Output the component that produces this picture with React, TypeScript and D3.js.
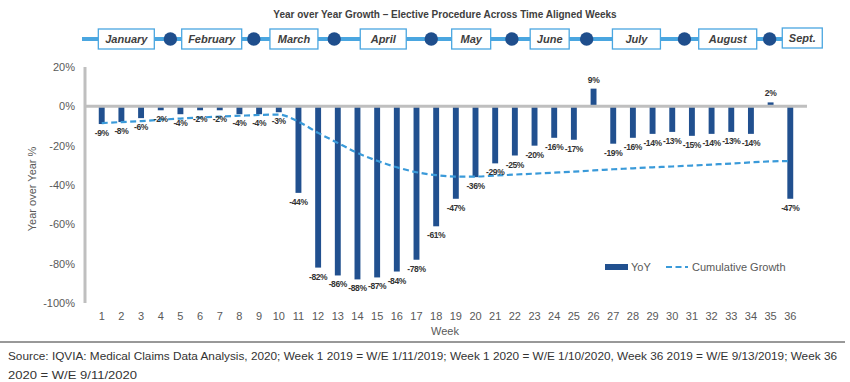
import React from "react";
import * as d3 from "d3";

const weeks: number[] = Array.from({ length: 36 }, (_, i) => i + 1);
const yoy: number[] = [-9, -8, -6, -2, -4, -2, -2, -4, -4, -3, -44, -82, -86, -88, -87, -84, -78, -61, -47, -36, -29, -25, -20, -16, -17, 9, -19, -16, -14, -13, -15, -14, -13, -14, 2, -47];
const cumulative: number[] = [-8.5, -8, -7.5, -6.8, -6.2, -5.7, -5.2, -4.8, -4.4, -4.2, -7.8, -13.5, -18.6, -23.7, -27.7, -31, -33.5, -35, -35.7, -35.7, -35.2, -34.7, -34.2, -33.7, -33.2, -32.6, -32, -31.5, -31, -30.6, -30.1, -29.6, -29.1, -28.5, -28, -27.8];
const yTicks: number[] = [20, 0, -20, -40, -60, -80, -100];
const months: string[] = ["January", "February", "March", "April", "May", "June", "July", "August", "Sept."];
// month box centres (in week units) and box widths, plus separator dot positions (week units)
const monthCenters: number[] = [2.6, 6.94, 11.12, 15.66, 20.13, 24.12, 28.53, 33.17, 36.96];
const monthBoxW: number[] = [56, 60, 48, 46, 39, 39, 48, 58, 40];
const dotWeeks: number[] = [4.84, 9.08, 13.17, 18.1, 22.2, 26.0, 30.97, 35.3];

const title = "Year over Year Growth \u2013 Elective Procedure Across Time Aligned Weeks";
const source1 = "Source: IQVIA: Medical Claims Data Analysis, 2020; Week 1 2019 = W/E 1/11/2019; Week 1 2020 = W/E 1/10/2020, Week 36 2019 = W/E 9/13/2019; Week 36";
const source2 = "2020 = W/E 9/11/2020";

const W = 850, H = 382;
const BAR = "#21508f";
const LINE = "#3a9ad9";
const BAND = "#4aa6e0";
const TXT = "#404040";

export default function App() {
  const x = d3.scaleBand<number>().domain(weeks).range([85, 807]).padding(0.7);
  const xc = (w: number) => (x(w) as number) + x.bandwidth() / 2;
  const step = x.step();
  const xw = (w: number) => 85 + step * (w - 0.5);
  const y = d3.scaleLinear().domain([-100, 20]).range([303, 67]);
  const line = d3.line<number>().x((_, i) => xc(weeks[i])).y((d) => y(d)).curve(d3.curveMonotoneX);
  const font = "Liberation Sans, Arial, sans-serif";

  return (
    <svg width={W} height={H} style={{ position: "absolute", left: 0, top: 0, background: "#fff" }} fontFamily={font}>
      <text x={445} y={18} textAnchor="middle" fontSize={10} fontWeight="bold" fill={TXT}>{title}</text>

      {/* month band */}
      <line x1={82} x2={xw(monthCenters[8]) - 10} y1={39} y2={39} stroke={BAND} strokeWidth={4} />
      {dotWeeks.map((w, i) => (
        <circle key={"d" + i} cx={xw(w)} cy={39} r={6.7} fill="#1f4e8c" />
      ))}
      {months.map((m, i) => {
        const cx = xw(monthCenters[i]);
        const off = i === 8 ? -1 : 0;
        return (
          <g key={m}>
            <rect x={cx - monthBoxW[i] / 2} y={29 + off} width={monthBoxW[i]} height={20} fill="#fff" stroke={BAND} strokeWidth={1.3} />
            <text x={cx} y={43 + off} textAnchor="middle" fontSize={11} fontStyle="italic" fontWeight="bold" fill={TXT}>{m}</text>
          </g>
        );
      })}

      {/* y axis */}
      <line x1={85} x2={85} y1={y(20)} y2={y(-100)} stroke="#bfbfbf" strokeWidth={3} />
      {yTicks.map((t) => (
        <text key={t} x={75} y={y(t) + 4} textAnchor="end" fontSize={11} fill="#595959">{t}%</text>
      ))}
      <text transform={`translate(36,${y(-42)}) rotate(-90)`} textAnchor="middle" fontSize={11} fill="#595959">Year over Year %</text>

      {/* bars */}
      {yoy.map((v, i) => (
        <rect key={"b" + i} x={x(weeks[i])} y={Math.min(y(v), y(0))} width={x.bandwidth()} height={Math.abs(y(v) - y(0))} fill={BAR} />
      ))}
      <line x1={85} x2={807} y1={y(0)} y2={y(0)} stroke="#bfbfbf" strokeWidth={3} />

      <path d={line(cumulative) || ""} fill="none" stroke={LINE} strokeWidth={2.2} strokeDasharray="6,3.5" />

      {yoy.map((v, i) => (
        <text key={"l" + i} x={xc(weeks[i])} y={v < 0 ? y(v) + 12 : y(v) - 6} textAnchor="middle" fontSize={8.5} fontWeight="bold" fill="#333" letterSpacing={-0.4}>{v}%</text>
      ))}

      {/* x axis labels */}
      {weeks.map((w) => (
        <text key={"w" + w} x={xc(w)} y={320} textAnchor="middle" fontSize={11} fill="#595959">{w}</text>
      ))}
      <text x={445} y={335} textAnchor="middle" fontSize={11} fill="#595959">Week</text>

      {/* legend */}
      <rect x={605} y={264} width={23} height={6} fill={BAR} />
      <text x={631} y={271} fontSize={11} fill="#595959">YoY</text>
      <line x1={666} x2={688} y1={267} y2={267} stroke={LINE} strokeWidth={2.2} strokeDasharray="6,3.5" />
      <text x={692} y={271} fontSize={11} fill="#595959">Cumulative Growth</text>

      {/* source */}
      <line x1={0} x2={845} y1={342} y2={342} stroke="#333" strokeWidth={1} />
      <text x={8} y={360} fontSize={11.5} fill="#333" textLength={829} lengthAdjust="spacingAndGlyphs">{source1}</text>
      <text x={8} y={379} fontSize={11.5} fill="#333" textLength={129} lengthAdjust="spacingAndGlyphs">{source2}</text>
    </svg>
  );
}
